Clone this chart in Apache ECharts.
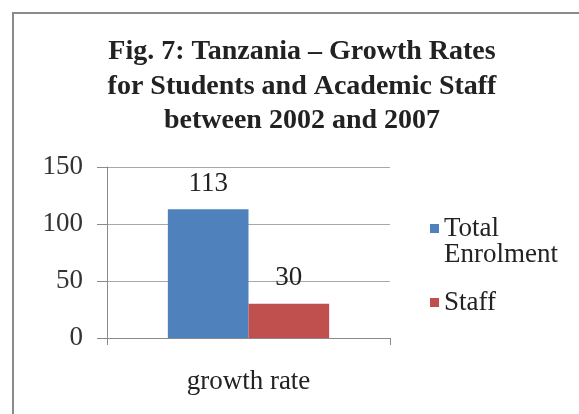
<!DOCTYPE html>
<html>
<head>
<meta charset="utf-8">
<script src="https://cdn.jsdelivr.net/npm/echarts@6/dist/echarts.min.js"></script>
<style>
    html, body { margin: 0; padding: 0; background: #fff; }
    #chart { width: 579px; height: 414px; }
</style>
</head>
<body>
<div id="chart"></div>
<script>
const categories = ['growth rate'];
const totalEnrolment = [113];
const staff = [30];
const seriesNames = ['Total Enrolment', 'Staff'];
const titleLines = ['Fig. 7: Tanzania \u2013 Growth Rates', 'for Students and Academic Staff', 'between 2002 and 2007'];

const font = 'Liberation Serif';
const myEchart = echarts.init(document.getElementById('chart'));

const option = {
    textStyle: { fontFamily: font },
    title: {
        text: titleLines.join('\n'),
        left: 302,
        textAlign: 'center',
        top: 35,
        padding: 0,
        textStyle: {
            fontFamily: font,
            fontWeight: 'bold',
            fontSize: 28,
            lineHeight: 34.5,
            color: '#222'
        }
    },
    graphic: [{
        type: 'rect',
        shape: { x: 13, y: 13, width: 700, height: 600 },
        style: { fill: 'none', stroke: '#8a8a8a', lineWidth: 2 },
        silent: true
    }],
    legend: [{
        data: [seriesNames[0]],
        orient: 'vertical',
        left: 430,
        top: 189,
        padding: 0,
        icon: 'rect',
        itemWidth: 9,
        itemHeight: 9,
        // blank first line so the icon sits beside "Total"
        formatter: (name) => ' \n' + name.replace(' ', '\n'),
        textStyle: { fontFamily: font, fontSize: 27, lineHeight: 26, color: '#222' }
    }, {
        data: [seriesNames[1]],
        orient: 'vertical',
        left: 430,
        top: 289,
        padding: 0,
        icon: 'rect',
        itemWidth: 9,
        itemHeight: 9,
        textStyle: { fontFamily: font, fontSize: 27, lineHeight: 26, color: '#222' }
    }],
    grid: { left: 107, right: 189, top: 167, bottom: 76 },
    xAxis: {
        type: 'category',
        data: categories,
        axisLine: { lineStyle: { color: '#8a8a8a', width: 1 } },
        axisTick: { show: true, length: 7, lineStyle: { color: '#8a8a8a' } },
        axisLabel: { fontFamily: font, fontSize: 27, color: '#222', margin: 30 }
    },
    yAxis: {
        type: 'value',
        min: 0,
        max: 150,
        interval: 50,
        axisLine: { show: true, lineStyle: { color: '#8a8a8a', width: 1 } },
        axisTick: { show: true, length: 10, lineStyle: { color: '#8a8a8a' } },
        axisLabel: { fontFamily: font, fontSize: 27, color: '#333', margin: 24 },
        splitLine: { lineStyle: { color: '#a8a8a8', width: 1 } }
    },
    series: [{
        name: seriesNames[0],
        type: 'bar',
        data: totalEnrolment,
        barGap: 0,
        barCategoryGap: '43%',
        itemStyle: { color: '#4F81BD' },
        label: { show: true, position: 'top', distance: 12, fontFamily: font, fontSize: 27, color: '#222' }
    }, {
        name: seriesNames[1],
        type: 'bar',
        data: staff,
        barGap: 0,
        barCategoryGap: '43%',
        itemStyle: { color: '#C0504D' },
        label: { show: true, position: 'top', distance: 12, fontFamily: font, fontSize: 27, color: '#222' }
    }]
};
myEchart.setOption(option);
</script>
</body>
</html>
